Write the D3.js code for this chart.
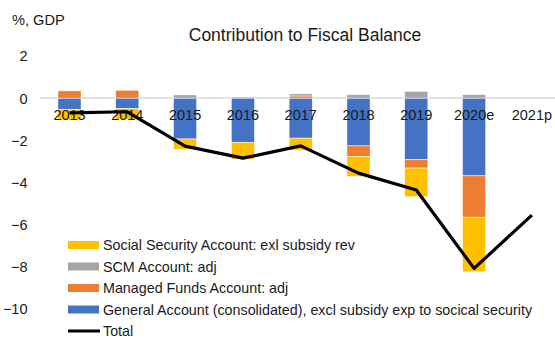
<!DOCTYPE html>
<html>
<head>
<meta charset="utf-8">
<script src="https://cdn.jsdelivr.net/npm/d3@7"></script>
<style>
  html, body { margin: 0; padding: 0; background: #fff; }
  svg { display: block; font-family: "Liberation Sans", Arial, sans-serif; }
</style>
</head>
<body>
<svg id="chart" width="555" height="338"></svg>
<script>
// Categories (fiscal years)
const years = ["2013", "2014", "2015", "2016", "2017", "2018", "2019", "2020e", "2021p"];

// Contributions by account, % of GDP
const generalAccount = [-0.53, -0.50, -1.94, -2.10, -1.90, -2.27, -2.91, -3.69, 0];
const managedFunds   = [0.34, 0.37, 0.00, 0.00, 0.10, -0.49, -0.41, -1.96, 0];
const scmAccount     = [0.00, 0.00, 0.15, 0.05, 0.10, 0.16, 0.32, 0.16, 0];
const socialSecurity = [-0.51, -0.52, -0.49, -0.80, -0.57, -0.96, -1.36, -2.59, 0];
const totalBalance   = [-0.70, -0.65, -2.28, -2.85, -2.27, -3.56, -4.36, -8.08, -5.55];

// Axis ticks
const yTicks = [2, 0, -2, -4, -6, -8, -10];

// Series in stacking order (nearest zero first)
const seriesKeys = ["general", "managed", "scm", "social"];
const seriesLabels = {
  general: "General Account (consolidated), excl subsidy exp to socical security",
  managed: "Managed Funds Account: adj",
  scm: "SCM Account: adj",
  social: "Social Security Account: exl subsidy rev"
};
const colors = { general: "#4472C4", managed: "#ED7D31", scm: "#A5A5A5", social: "#FFC000" };

const rows = years.map((y, i) => ({
  year: y,
  general: generalAccount[i],
  managed: managedFunds[i],
  scm: scmAccount[i],
  social: socialSecurity[i],
  total: totalBalance[i]
}));

const svg = d3.select("#chart");
const textColor = "#1a1a1a";

const x = d3.scaleBand()
  .domain(years)
  .range([40.6, 560.8])
  .paddingInner(0.6)
  .paddingOuter(0.3);

const y = d3.scaleLinear()
  .domain([-10, 2])
  .range([308.9, 55.9]);

// Zero line
svg.append("line")
  .attr("x1", 40).attr("x2", 560)
  .attr("y1", y(0)).attr("y2", y(0))
  .attr("stroke", "#D9D9D9")
  .attr("stroke-width", 1.5);

// Stacked bars (positive and negative parts stacked separately)
const stack = d3.stack()
  .keys(seriesKeys)
  .offset(d3.stackOffsetDiverging);
const stacked = stack(rows);

const barsG = svg.append("g");
stacked.forEach(layer => {
  barsG.selectAll(null)
    .data(layer.filter(d => d[0] !== d[1]))
    .join("rect")
    .attr("x", d => x(d.data.year))
    .attr("width", x.bandwidth())
    .attr("y", d => y(Math.max(d[0], d[1])))
    .attr("height", d => Math.abs(y(d[0]) - y(d[1])))
    .attr("fill", colors[layer.key])
    .attr("stroke", "#fff")
    .attr("stroke-width", 0.5);
});

// Y axis labels
const yAxis = d3.axisLeft(y).tickValues(yTicks).tickSize(0).tickPadding(0)
  .tickFormat(d3.format("d"));
const yg = svg.append("g")
  .attr("transform", "translate(27.5,0)")
  .call(yAxis);
yg.select(".domain").remove();
yg.selectAll("text")
  .attr("font-size", 14.5)
  .attr("fill", textColor)
  .attr("font-family", "Liberation Sans, Arial, sans-serif")
  .attr("dy", "0.35em");

// X category labels just under the zero line
const xAxis = d3.axisBottom(x).tickSize(0).tickPadding(0);
const xg = svg.append("g")
  .attr("transform", `translate(0,${y(0)})`)
  .call(xAxis);
xg.select(".domain").remove();
xg.selectAll("text")
  .attr("y", 17)
  .attr("dy", "0.35em")
  .attr("font-size", 14.5)
  .attr("fill", textColor)
  .attr("font-family", "Liberation Sans, Arial, sans-serif");

// Total line
const line = d3.line()
  .x(d => x(d.year) + x.bandwidth() / 2)
  .y(d => y(d.total));
svg.append("path")
  .datum(rows)
  .attr("d", line)
  .attr("fill", "none")
  .attr("stroke", "#000")
  .attr("stroke-width", 3.2)
  .attr("stroke-linejoin", "round");

// Title and unit label
svg.append("text")
  .attr("x", 305).attr("y", 35)
  .attr("dy", "0.35em")
  .attr("text-anchor", "middle")
  .attr("font-size", 17.5)
  .attr("fill", textColor)
  .text("Contribution to Fiscal Balance");

svg.append("text")
  .attr("x", 12).attr("y", 19.5)
  .attr("dy", "0.35em")
  .attr("font-size", 14.6)
  .attr("fill", textColor)
  .text("%, GDP");

// Legend
const legendItems = ["social", "scm", "managed", "general", "total"];
const legend = svg.append("g");
legendItems.forEach((k, i) => {
  const cy = 245 + i * 21.5;
  if (k === "total") {
    legend.append("line")
      .attr("x1", 68).attr("x2", 100)
      .attr("y1", cy).attr("y2", cy)
      .attr("stroke", "#000").attr("stroke-width", 3);
  } else {
    legend.append("rect")
      .attr("x", 68).attr("y", cy - 4)
      .attr("width", 31).attr("height", 8)
      .attr("fill", colors[k]);
  }
  legend.append("text")
    .attr("x", 103).attr("y", cy)
    .attr("dy", "0.35em")
    .attr("font-size", 14.3)
    .attr("fill", textColor)
    .text(k === "total" ? "Total" : seriesLabels[k]);
});
</script>
</body>
</html>
